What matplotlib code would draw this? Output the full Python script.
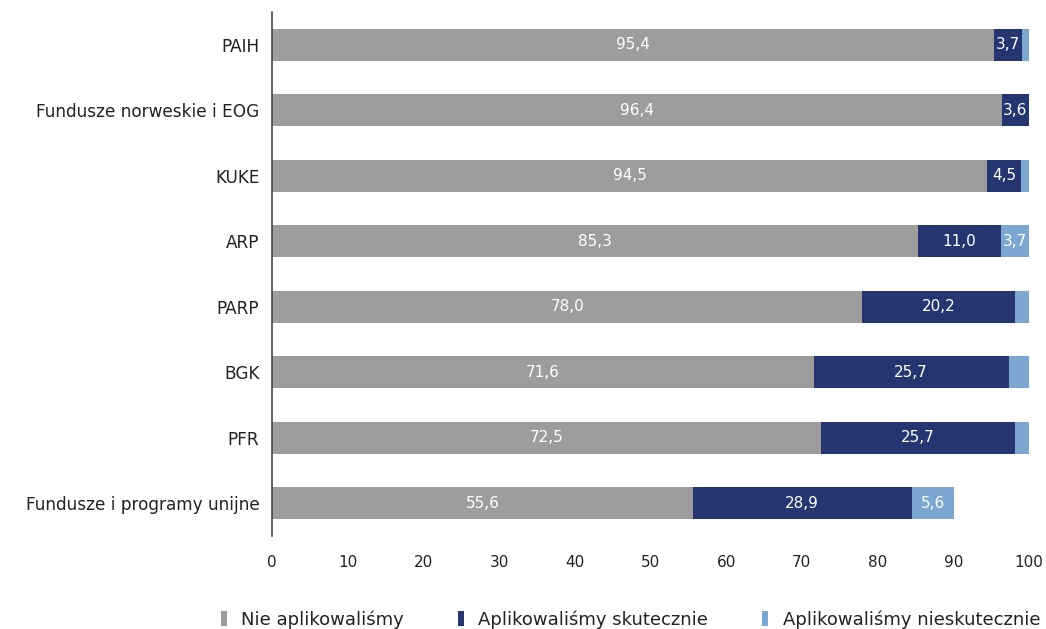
import matplotlib.pyplot as plt
from matplotlib.patches import Patch

plt.rcParams['font.family'] = ['DejaVu Sans']

categories = ["PAIH", "Fundusze norweskie i EOG", "KUKE", "ARP", "PARP", "BGK", "PFR",
              "Fundusze i programy unijne"]
nie_aplikowalismy = [95.4, 96.4, 94.5, 85.3, 78.0, 71.6, 72.5, 55.6]
skutecznie = [3.7, 3.6, 4.5, 11.0, 20.2, 25.7, 25.7, 28.9]
nieskutecznie = [0.9, 0.0, 1.0, 3.7, 1.8, 2.7, 1.8, 5.6]
series_names = ["Nie aplikowaliśmy", "Aplikowaliśmy skutecznie", "Aplikowaliśmy nieskutecznie"]
colors = ["#9d9d9d", "#253570", "#7ba7d0"]

fig = plt.figure(figsize=(10.46, 6.29), dpi=100)
ax = fig.add_axes([0.26, 0.148, 0.7237, 0.833])

y = list(range(len(categories)))
left = [0.0] * len(categories)
for vals, col in zip([nie_aplikowalismy, skutecznie, nieskutecznie], colors):
    bars = ax.barh(y, vals, left=left, height=0.49, color=col, linewidth=0)
    for b, v, l in zip(bars, vals, left):
        if v >= 3.0:
            ax.text(l + v / 2, b.get_y() + b.get_height() / 2,
                    f"{v:.1f}".replace(".", ","), ha="center", va="center",
                    color="white", fontsize=11)
    left = [a + b for a, b in zip(left, vals)]

ax.set_ylim(len(categories) - 0.5, -0.5)
ax.set_xlim(0, 100)
ax.set_yticks(y)
ax.set_yticklabels(categories, fontsize=12.2, color="#222222")
ax.set_xticks(range(0, 101, 10))
ax.tick_params(axis="x", labelsize=11, colors="#222222", length=0, pad=14)
ax.tick_params(axis="y", length=0, pad=9)
for s in ["top", "right", "bottom"]:
    ax.spines[s].set_visible(False)
ax.spines["left"].set_color("#444444")
ax.spines["left"].set_linewidth(1.2)

handles = [Patch(facecolor=c, edgecolor="none") for c in colors]
fig.legend(handles, series_names, loc="center", bbox_to_anchor=(0.603, 0.015),
           ncol=3, frameon=False, fontsize=13, handlelength=0.33, handleheight=0.9,
           handletextpad=0.78, columnspacing=3.0, labelcolor="#222222")

fig.savefig("out.png", dpi=100)
